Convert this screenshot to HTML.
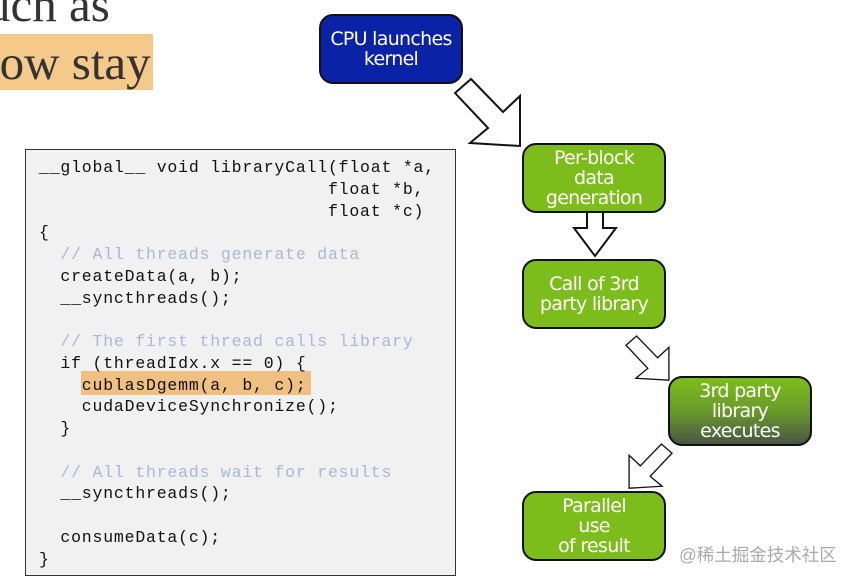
<!DOCTYPE html>
<html><head><meta charset="utf-8"><style>
body{margin:0;width:858px;height:582px;background:#fff;position:relative;overflow:hidden;font-family:"Liberation Sans",sans-serif}
.serif{position:absolute;font-family:"Liberation Serif",serif;font-size:49px;color:#333;white-space:nowrap}
.hl{position:absolute;left:0;top:34px;width:153px;height:56px;background:#f5c98a}
.code{position:absolute;left:25px;top:149px;width:429px;height:425px;background:#f1f1f1;border:1.5px solid #333}
pre{position:absolute;left:13px;top:7px;margin:0;font-family:"Liberation Mono",monospace;font-size:16.5px;letter-spacing:0.8px;line-height:21.75px;color:#111}
.c{color:#a9b8d8}
.ch{position:absolute;left:55px;top:221px;width:230px;height:24px;background:#f0c080}
.node{position:absolute;width:140px;height:66px;border:2px solid #111;border-radius:14px;color:#fff;font-family:"DejaVu Sans",sans-serif;font-size:19px;line-height:20px;text-align:center;display:flex;align-items:center;justify-content:center;letter-spacing:-0.7px}
.g{background:#7dbd1b}
.wm{position:absolute;left:679px;top:542px;font-family:"Liberation Sans","Noto Sans CJK SC",sans-serif;font-size:17.5px;color:#aaa}
</style></head><body>
<div class="serif" style="left:-14px;top:-24px">uch as</div>
<div class="hl"></div>
<div class="serif" style="left:-14px;top:34px">low stay</div>
<div class="code"><div class="ch"></div><pre>__global__ void libraryCall(float *a,
                           float *b,
                           float *c)
{
  <span class="c">// All threads generate data</span>
  createData(a, b);
  __syncthreads();

  <span class="c">// The first thread calls library</span>
  if (threadIdx.x == 0) {
    cublasDgemm(a, b, c);
    cudaDeviceSynchronize();
  }

  <span class="c">// All threads wait for results</span>
  __syncthreads();

  consumeData(c);
}</pre></div>
<div class="node" style="left:319px;top:14px;background:#0a22a6">CPU launches<br>kernel</div>
<div class="node g" style="left:522px;top:143px">Per-block<br>data<br>generation</div>
<div class="node g" style="left:522px;top:259px">Call of 3rd<br>party library</div>
<div class="node" style="left:668px;top:376px;background:linear-gradient(#7dbd1b,#6a9a2a 50%,#4a5545)">3rd party<br>library<br>executes</div>
<div class="node g" style="left:522px;top:491px">Parallel<br>use<br>of result</div>
<svg width="858" height="582" style="position:absolute;left:0;top:0">
<g fill="#fff" stroke="#111" stroke-width="2" stroke-linejoin="miter">
<polygon transform="translate(455,79)" points="0,14 16,0 48,33 65,17 65,67 15,64 33,49"/>
<polygon points="587,212 603,212 603,228 616,228 595,256 574,228 587,228"/>
<polygon transform="translate(626,336) scale(0.66)" points="0,14 16,0 48,33 65,17 65,67 15,64 33,49"/>
<polygon transform="translate(672,444) scale(-0.66,0.66)" points="0,14 16,0 48,33 65,17 65,67 15,64 33,49"/>
</g></svg>
<div class="wm">@稀土掘金技术社区</div>
</body></html>
